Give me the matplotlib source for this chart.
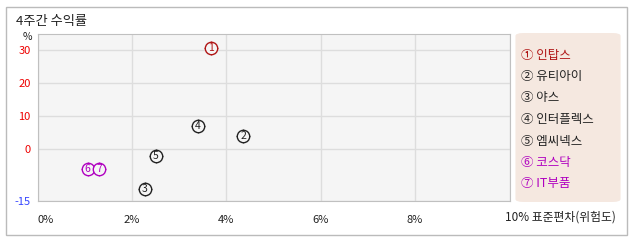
import matplotlib.pyplot as plt
from matplotlib.patches import Rectangle, FancyBboxPatch

plt.rcParams['font.family'] = ['Noto Sans CJK KR', 'DejaVu Sans']

# data
names = ['인탑스', '유티아이', '야스', '인터플렉스', '엠씨넥스', '코스닥', 'IT부품']
risk = [3.68, 4.36, 2.27, 3.39, 2.51, 1.06, 1.30]      # 표준편차 (%)
ret = [30.7, 4.0, -12.1, 6.8, -2.1, -6.1, -6.1]       # 4주간 수익률 (%)
colors = ['#b01515', '#222222', '#222222', '#222222', '#222222', '#b000c0', '#b000c0']
xticks = [0, 2, 4, 6, 8, 10]
yticks = [-15, 0, 10, 20, 30]

fig = plt.figure(figsize=(6.38, 2.42), dpi=100)
W, H = 638, 242

# outer frame
fig.patches.append(Rectangle((6 / W, 1 - 235 / H), 621 / W, 228 / H, transform=fig.transFigure,
                             fill=False, edgecolor='#bbbbbb', linewidth=1))
fig.text(16 / W, 1 - 21 / H, '4주간 수익률', fontsize=9.5, color='#222222', va='center')
fig.text(27 / W, 1 - 37 / H, '%', fontsize=7.5, color='#222222', ha='center', va='center')

ybottom = -15.8
ax = fig.add_axes([37.5 / W, 1 - 201 / H, 472 / W, 167 / H])
ax.set_facecolor('#f5f5f5')
ax.set_xlim(0, 10)
ax.set_ylim(ybottom, 34.8)
ax.set_xticks(xticks)
# the -15 label sits on the bottom edge of the plot
ax.set_yticks([ybottom] + yticks[1:])
ax.grid(color='#dddddd', linewidth=1)
ax.set_axisbelow(True)
for s in ax.spines.values():
    s.set_color('#c0c0c0')
ax.tick_params(length=0, labelsize=8)
ax.tick_params(axis='x', pad=10)
ax.tick_params(axis='y', pad=5)
ax.set_xticklabels(['0%', '2%', '4%', '6%', '8%', ''], color='#222222')
ax.get_xticklabels()[0].set_horizontalalignment('left')
ax.set_yticklabels([str(v) for v in yticks])
for lab, v in zip(ax.get_yticklabels(), yticks):
    lab.set_color('#3344ff' if v < 0 else '#ee0000')
fig.text(505 / W, 1 - 217 / H, '10% 표준편차(위험도)', fontsize=8.5, color='#222222',
         ha='left', va='center')

for i, (x, y, c) in enumerate(zip(risk, ret, colors)):
    ax.scatter(x, y, marker='+', s=105, color=c, linewidths=0.6, zorder=3)
    ax.scatter(x, y, marker='o', s=80, facecolor='#f5f5f5', edgecolor=c, linewidths=1, zorder=4)
    ax.text(x, y, str(i + 1), fontsize=7.5, color=c, ha='center', va='center', zorder=5)

# legend box
fig.patches.append(FancyBboxPatch((518 / W, 1 - 201 / H), 100 / W, 167 / H, transform=fig.transFigure,
                                  boxstyle='round,pad=0.004,rounding_size=0.012',
                                  facecolor='#f5e8e0', edgecolor='none'))
circled = '①②③④⑤⑥⑦'
for i, (n, c) in enumerate(zip(names, colors)):
    fig.text(521 / W, 1 - (55 + 21.5 * i) / H, circled[i] + ' ' + n, fontsize=9, color=c, va='center')

fig.savefig('out.png', dpi=100)
